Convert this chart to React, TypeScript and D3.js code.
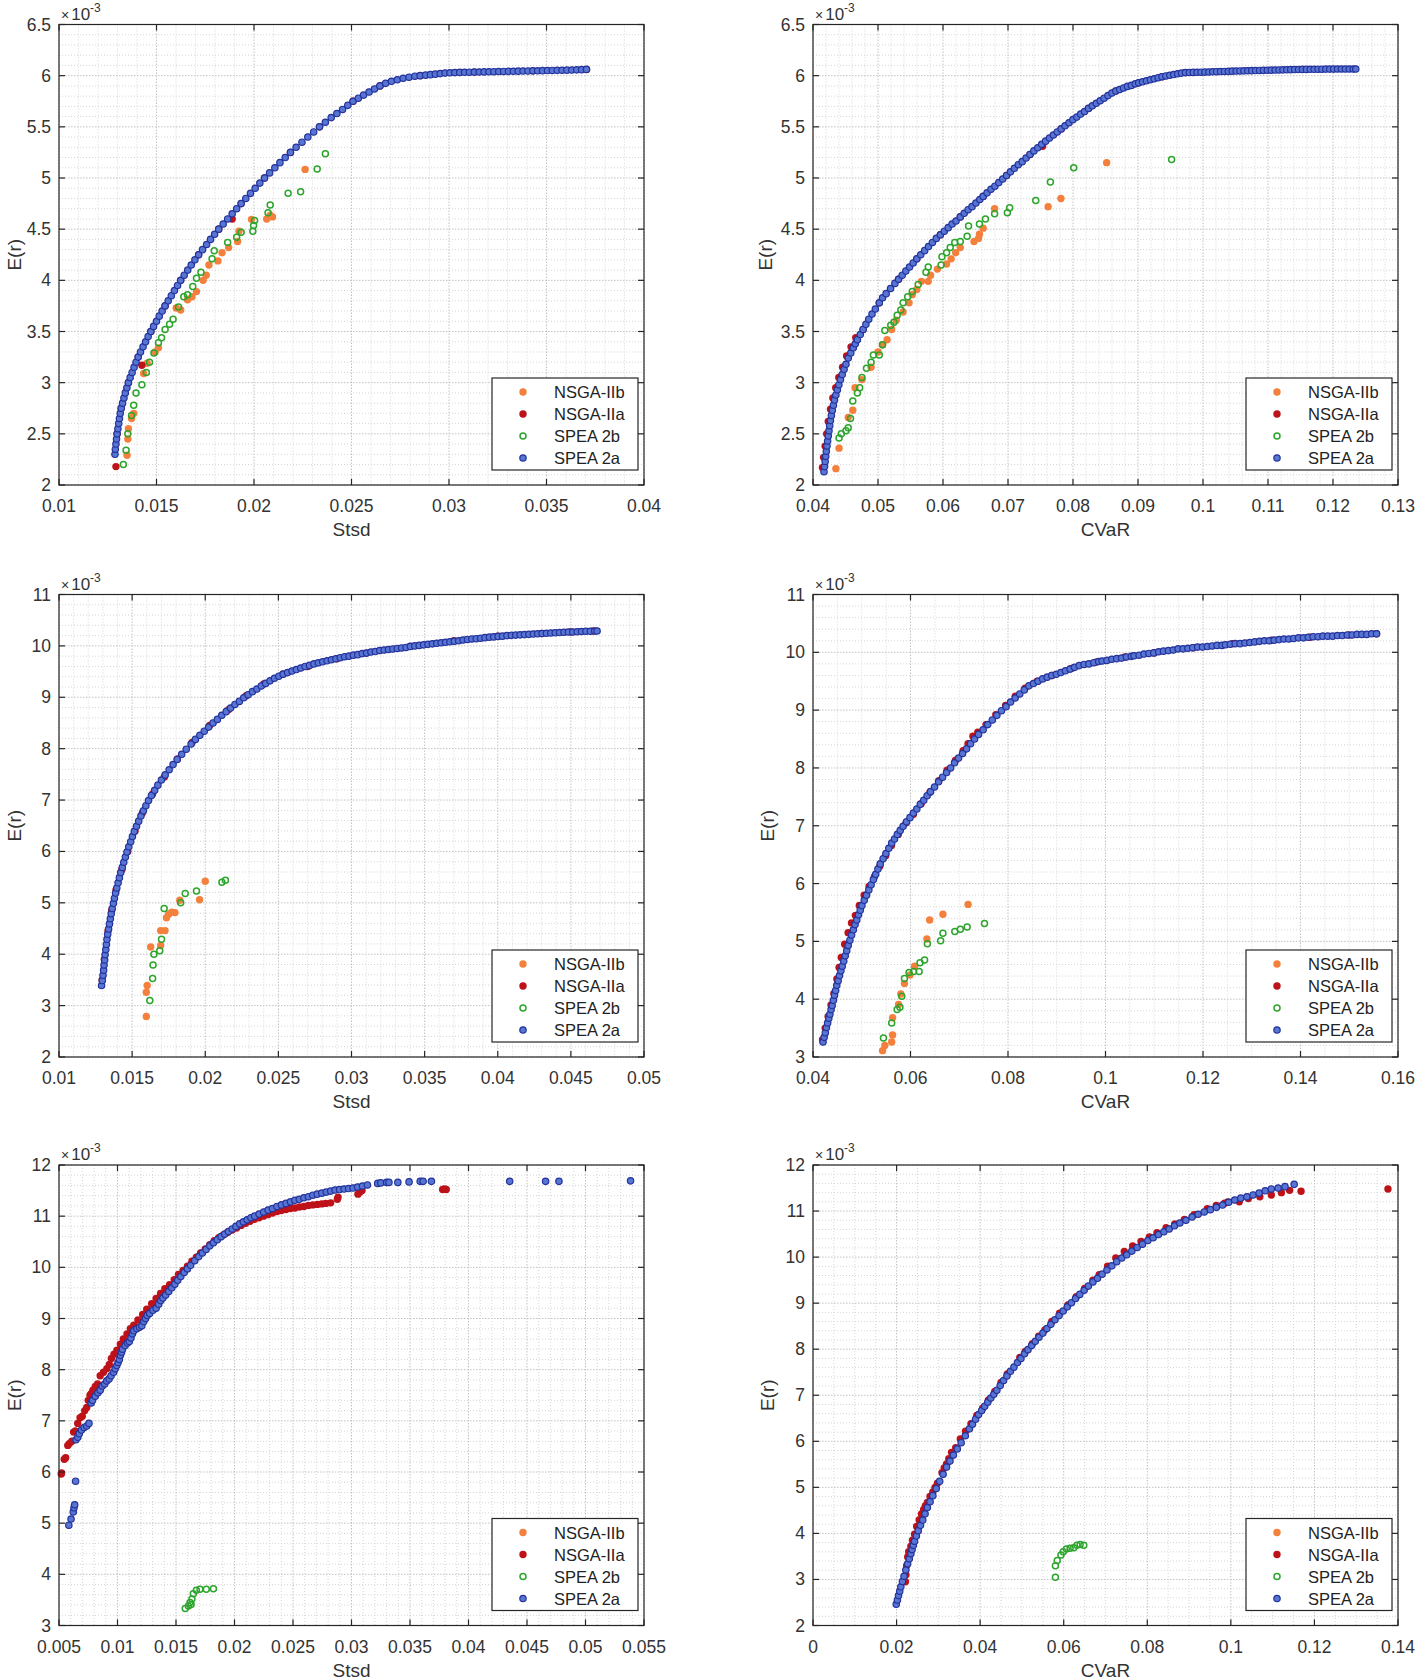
import React from 'react';
import * as d3 from 'd3';

type P = [number, number];

// ---------- Panel A : Stsd (top-left), E(r) in 1e-3 ----------
const A_nsga2b: P[] = [[0.02262,5.084],[0.02083,4.636],[0.02095,4.62],[0.02065,4.6],[0.01987,4.596],[0.01923,4.48],[0.01916,4.38],[0.0187,4.32],[0.01836,4.27],[0.01815,4.19],[0.01769,4.15],[0.01755,4.05],[0.01739,4.0],[0.01705,3.89],[0.01682,3.84],[0.01659,3.81],[0.01624,3.71],[0.01601,3.73],[0.0151,3.34],[0.01493,3.3],[0.01452,3.19],[0.01434,3.09],[0.01383,2.7],[0.01372,2.65],[0.01356,2.55],[0.01353,2.45],[0.01349,2.29]];
const A_nsga2a: P[] = [[0.01292,2.18],[0.01298,2.5],[0.01319,2.75],[0.01356,3.0],[0.01425,3.17],[0.01406,3.25],[0.01471,3.5],[0.01544,3.75],[0.01624,4.0],[0.01716,4.25],[0.01819,4.5],[0.01888,4.6],[0.01934,4.75],[0.02054,5.0],[0.02187,5.25],[0.02336,5.5],[0.02508,5.75],[0.02646,5.9],[0.02852,6.0],[0.0313,6.035],[0.0343,6.047],[0.03705,6.061]];
const A_spea2b: P[] = [[0.02366,5.236],[0.02324,5.088],[0.02239,4.865],[0.02175,4.85],[0.02083,4.737],[0.02072,4.66],[0.02003,4.585],[0.01998,4.535],[0.01994,4.48],[0.01934,4.47],[0.01911,4.42],[0.01865,4.37],[0.01796,4.29],[0.01785,4.21],[0.01728,4.08],[0.01705,4.02],[0.01686,3.94],[0.01659,3.86],[0.0164,3.84],[0.01613,3.74],[0.01585,3.62],[0.01567,3.57],[0.01544,3.52],[0.01526,3.44],[0.0151,3.39],[0.01487,3.29],[0.01464,3.2],[0.01448,3.1],[0.01425,2.98],[0.01395,2.9],[0.01383,2.78],[0.01372,2.68],[0.01353,2.5],[0.01344,2.34],[0.0133,2.2]];
const A_spea2a: P[] = [[0.01287,2.3],[0.01289,2.35],[0.01292,2.4],[0.01295,2.45],[0.01298,2.5],[0.01302,2.55],[0.01306,2.6],[0.0131,2.65],[0.01314,2.7],[0.01319,2.75],[0.01326,2.8],[0.01333,2.85],[0.0134,2.9],[0.01348,2.95],[0.01356,3.0],[0.01365,3.05],[0.01375,3.1],[0.01385,3.15],[0.01395,3.2],[0.01406,3.25],[0.01418,3.3],[0.01431,3.35],[0.01444,3.4],[0.01457,3.45],[0.01471,3.5],[0.01485,3.55],[0.015,3.6],[0.01514,3.65],[0.01529,3.7],[0.01544,3.75],[0.0156,3.8],[0.01576,3.85],[0.01592,3.9],[0.01608,3.95],[0.01624,4.0],[0.01642,4.05],[0.0166,4.1],[0.01678,4.15],[0.01697,4.2],[0.01716,4.25],[0.01736,4.3],[0.01757,4.35],[0.01777,4.4],[0.01798,4.45],[0.01819,4.5],[0.01842,4.55],[0.01865,4.6],[0.01888,4.65],[0.01911,4.7],[0.01934,4.75],[0.01958,4.8],[0.01982,4.85],[0.02006,4.9],[0.0203,4.95],[0.02054,5.0],[0.0208,5.05],[0.02107,5.1],[0.02133,5.15],[0.0216,5.2],[0.02187,5.25],[0.02216,5.3],[0.02246,5.35],[0.02276,5.4],[0.02306,5.45],[0.02336,5.5],[0.02366,5.545],[0.02396,5.59],[0.02425,5.63],[0.02454,5.67],[0.02481,5.71],[0.02508,5.75],[0.02535,5.78],[0.02562,5.81],[0.0259,5.84],[0.02618,5.87],[0.02646,5.9],[0.02675,5.925],[0.02705,5.945],[0.02735,5.96],[0.02765,5.975],[0.02795,5.985],[0.02825,5.995],[0.02852,6.0],[0.0288,6.005],[0.02905,6.01],[0.0293,6.015],[0.02955,6.02],[0.0298,6.025],[0.03005,6.028],[0.0303,6.03],[0.03055,6.032],[0.0308,6.033],[0.03105,6.034],[0.0313,6.035],[0.03155,6.036],[0.0318,6.037],[0.03205,6.038],[0.0323,6.039],[0.03255,6.04],[0.0328,6.041],[0.03305,6.042],[0.0333,6.043],[0.03355,6.044],[0.0338,6.045],[0.03405,6.046],[0.0343,6.047],[0.03455,6.048],[0.0348,6.049],[0.03505,6.05],[0.0353,6.051],[0.03555,6.052],[0.0358,6.053],[0.03605,6.054],[0.0363,6.055],[0.03655,6.057],[0.0368,6.059],[0.03705,6.061]];

// ---------- Panel B : CVaR (top-right) ----------
const B_nsga2b: P[] = [[0.08518,5.15],[0.07814,4.8],[0.07617,4.72],[0.06794,4.7],[0.06618,4.51],[0.06561,4.45],[0.06477,4.38],[0.06547,4.41],[0.06266,4.32],[0.06195,4.27],[0.06125,4.21],[0.06055,4.16],[0.05914,4.11],[0.05808,4.05],[0.05773,3.99],[0.05668,3.99],[0.05597,3.91],[0.05527,3.86],[0.05478,3.78],[0.05386,3.69],[0.05281,3.61],[0.0521,3.52],[0.0514,3.42],[0.0507,3.37],[0.05,3.3],[0.04894,3.15],[0.04753,3.03],[0.04647,2.95],[0.04612,2.73],[0.04542,2.66],[0.04401,2.36],[0.04352,2.16]];
const B_nsga2a: P[] = [[0.04145,2.17],[0.04163,2.27],[0.04186,2.38],[0.0421,2.5],[0.04235,2.62],[0.0427,2.74],[0.04305,2.85],[0.0435,2.95],[0.04397,3.05],[0.04455,3.15],[0.04517,3.26],[0.04585,3.35],[0.04658,3.44],[0.04771,3.52],[0.0502,3.78],[0.05316,4.01],[0.05597,4.21],[0.0596,4.445],[0.06266,4.62],[0.06618,4.82],[0.06978,5.025],[0.07338,5.23],[0.07532,5.31],[0.07818,5.48],[0.08238,5.68],[0.08658,5.85],[0.0901,5.93],[0.0937,5.99],[0.0973,6.03]];
const B_spea2b: P[] = [[0.09517,5.18],[0.08011,5.1],[0.07652,4.96],[0.07427,4.78],[0.07026,4.71],[0.0699,4.66],[0.06794,4.65],[0.06653,4.6],[0.06561,4.55],[0.06393,4.53],[0.06371,4.43],[0.06266,4.38],[0.06181,4.37],[0.06111,4.32],[0.06055,4.27],[0.05984,4.23],[0.0597,4.15],[0.05773,4.13],[0.05738,4.08],[0.05618,3.96],[0.05527,3.89],[0.05457,3.84],[0.05386,3.78],[0.05351,3.71],[0.05295,3.66],[0.05245,3.59],[0.05196,3.56],[0.05105,3.51],[0.0507,3.37],[0.0502,3.27],[0.04929,3.27],[0.04894,3.2],[0.04823,3.14],[0.04753,3.05],[0.04718,2.95],[0.04683,2.9],[0.04612,2.82],[0.04577,2.65],[0.04542,2.56],[0.04507,2.53],[0.04436,2.5],[0.04401,2.46]];
const B_spea2a: P[] = [[0.04169,2.13],[0.04178,2.18],[0.04187,2.23],[0.04196,2.28],[0.04205,2.33],[0.04215,2.38],[0.04225,2.43],[0.04235,2.48],[0.04246,2.53],[0.04257,2.58],[0.04268,2.63],[0.04283,2.68],[0.04298,2.73],[0.04314,2.78],[0.0433,2.83],[0.04352,2.88],[0.04375,2.93],[0.04398,2.98],[0.04422,3.03],[0.0445,3.08],[0.04478,3.13],[0.04507,3.18],[0.04542,3.24],[0.04581,3.29],[0.0462,3.34],[0.04651,3.38],[0.04683,3.42],[0.04727,3.47],[0.04771,3.52],[0.04814,3.57],[0.04858,3.62],[0.04908,3.67],[0.04959,3.72],[0.0502,3.78],[0.0507,3.83],[0.05125,3.87],[0.05193,3.92],[0.0526,3.97],[0.05316,4.01],[0.05372,4.05],[0.05428,4.09],[0.05485,4.13],[0.05541,4.17],[0.05597,4.21],[0.05657,4.25],[0.05717,4.29],[0.05777,4.33],[0.05837,4.37],[0.05897,4.41],[0.0596,4.445],[0.0602,4.48],[0.0608,4.515],[0.0614,4.55],[0.062,4.58],[0.06266,4.62],[0.06326,4.655],[0.06386,4.69],[0.06446,4.72],[0.06506,4.755],[0.06566,4.79],[0.06618,4.82],[0.06678,4.855],[0.06738,4.89],[0.06798,4.92],[0.06858,4.955],[0.06918,4.99],[0.06978,5.025],[0.07038,5.06],[0.07098,5.095],[0.07158,5.13],[0.07218,5.16],[0.07278,5.195],[0.07338,5.23],[0.07398,5.265],[0.07458,5.295],[0.07518,5.33],[0.07578,5.36],[0.07638,5.39],[0.07698,5.42],[0.07758,5.45],[0.07818,5.48],[0.07878,5.51],[0.07938,5.54],[0.07998,5.57],[0.08058,5.595],[0.08118,5.625],[0.08178,5.65],[0.08238,5.68],[0.08298,5.705],[0.08358,5.73],[0.08418,5.755],[0.08478,5.78],[0.08538,5.805],[0.08598,5.83],[0.08658,5.85],[0.08718,5.865],[0.08778,5.88],[0.08838,5.895],[0.08898,5.905],[0.08958,5.92],[0.0901,5.93],[0.0907,5.94],[0.0913,5.95],[0.0919,5.96],[0.0925,5.97],[0.0931,5.98],[0.0937,5.99],[0.0943,5.997],[0.0949,6.004],[0.0955,6.011],[0.0961,6.018],[0.0967,6.025],[0.0973,6.03],[0.0979,6.031],[0.0985,6.032],[0.0991,6.033],[0.0997,6.034],[0.1003,6.035],[0.1009,6.036],[0.1015,6.038],[0.1021,6.039],[0.1027,6.04],[0.1033,6.041],[0.1039,6.042],[0.1045,6.044],[0.1051,6.045],[0.1057,6.046],[0.1063,6.047],[0.1069,6.048],[0.1075,6.049],[0.1081,6.05],[0.1087,6.051],[0.1093,6.052],[0.1099,6.053],[0.1105,6.054],[0.1111,6.055],[0.1117,6.056],[0.1123,6.057],[0.1129,6.058],[0.1135,6.059],[0.1141,6.06],[0.1147,6.06],[0.1153,6.061],[0.1159,6.061],[0.1165,6.062],[0.1171,6.062],[0.1177,6.063],[0.1183,6.063],[0.1189,6.064],[0.1195,6.064],[0.1201,6.064],[0.1207,6.065],[0.1213,6.065],[0.1219,6.065],[0.1225,6.065],[0.1231,6.065],[0.1235,6.065]];

// ---------- Panel C : Stsd (middle-left) ----------
const C_nsga2b: P[] = [[0.02,5.42],[0.01961,5.06],[0.01826,5.05],[0.01793,4.81],[0.01771,4.82],[0.0175,4.78],[0.01735,4.71],[0.01725,4.46],[0.01695,4.46],[0.01695,4.17],[0.01627,4.14],[0.01603,3.39],[0.01597,3.26],[0.01597,2.79]];
const C_nsga2a: P[] = [[0.01295,3.5],[0.0131,3.9],[0.01335,4.45],[0.0136,4.85],[0.0139,5.25],[0.0143,5.65],[0.0147,6.0],[0.0152,6.4],[0.0157,6.75],[0.0164,7.12],[0.0172,7.45],[0.0181,7.8],[0.0191,8.12],[0.0203,8.45],[0.0216,8.76],[0.0228,9.03],[0.024,9.26],[0.0253,9.45],[0.027,9.6],[0.029,9.75],[0.031,9.86],[0.034,9.99],[0.037,10.1],[0.04,10.19],[0.043,10.24],[0.045,10.27],[0.0465,10.29]];
const C_spea2b: P[] = [[0.02138,5.44],[0.02114,5.4],[0.0194,5.23],[0.01863,5.18],[0.01832,5.0],[0.01719,4.89],[0.01701,4.29],[0.01689,4.07],[0.01649,4.0],[0.01643,3.79],[0.0164,3.53],[0.01621,3.1]];
const C_spea2a: P[] = [[0.01291,3.39],[0.01296,3.49],[0.01301,3.59],[0.01305,3.69],[0.01308,3.79],[0.01312,3.89],[0.01315,3.99],[0.0132,4.09],[0.01324,4.19],[0.01328,4.29],[0.01333,4.39],[0.01339,4.49],[0.01345,4.59],[0.01351,4.69],[0.01357,4.79],[0.01364,4.89],[0.01372,4.99],[0.01379,5.09],[0.01387,5.19],[0.01395,5.29],[0.01404,5.39],[0.01413,5.49],[0.01422,5.59],[0.01433,5.69],[0.01443,5.79],[0.01454,5.89],[0.01465,5.99],[0.01477,6.09],[0.0149,6.19],[0.01502,6.29],[0.01515,6.39],[0.0153,6.49],[0.01545,6.59],[0.0156,6.69],[0.01577,6.79],[0.01594,6.89],[0.01612,6.99],[0.01632,7.09],[0.01654,7.19],[0.01676,7.29],[0.017,7.39],[0.01726,7.49],[0.01753,7.59],[0.0178,7.69],[0.01808,7.79],[0.01839,7.89],[0.0187,7.99],[0.01903,8.09],[0.01933,8.18],[0.01963,8.26],[0.01993,8.34],[0.02023,8.42],[0.02053,8.5],[0.02083,8.57],[0.02113,8.65],[0.02143,8.72],[0.02173,8.79],[0.02203,8.86],[0.02233,8.92],[0.02263,8.99],[0.02293,9.05],[0.02323,9.11],[0.02353,9.16],[0.02383,9.22],[0.02413,9.27],[0.02443,9.32],[0.02473,9.37],[0.02503,9.41],[0.02533,9.45],[0.02563,9.48],[0.02593,9.51],[0.02623,9.54],[0.02653,9.57],[0.02683,9.6],[0.02713,9.62],[0.02743,9.65],[0.02773,9.67],[0.02803,9.69],[0.02833,9.71],[0.02863,9.73],[0.02893,9.75],[0.02923,9.77],[0.02953,9.79],[0.02983,9.8],[0.03013,9.82],[0.03043,9.83],[0.03073,9.85],[0.03103,9.86],[0.03133,9.88],[0.03163,9.89],[0.03193,9.91],[0.03223,9.92],[0.03253,9.93],[0.03283,9.94],[0.03313,9.95],[0.03343,9.96],[0.03373,9.97],[0.03403,9.99],[0.03433,10.0],[0.03463,10.01],[0.03493,10.02],[0.03523,10.03],[0.03553,10.04],[0.03583,10.05],[0.03613,10.06],[0.03643,10.07],[0.03673,10.08],[0.03703,10.09],[0.03733,10.1],[0.03763,10.115],[0.03793,10.125],[0.03823,10.135],[0.03853,10.14],[0.03883,10.15],[0.03913,10.16],[0.03943,10.17],[0.03973,10.175],[0.04003,10.185],[0.04033,10.19],[0.04063,10.2],[0.04093,10.205],[0.04123,10.21],[0.04153,10.215],[0.04183,10.22],[0.04213,10.225],[0.04243,10.23],[0.04273,10.235],[0.04303,10.24],[0.04333,10.245],[0.04363,10.25],[0.04393,10.255],[0.04423,10.26],[0.04453,10.265],[0.04483,10.27],[0.04513,10.27],[0.04543,10.275],[0.04573,10.28],[0.04603,10.285],[0.04633,10.285],[0.04663,10.29],[0.04679,10.29]];

// ---------- Panel D : CVaR (middle-right) ----------
const D_nsga2b: P[] = [[0.07181,5.64],[0.06665,5.47],[0.06393,5.37],[0.06336,5.04],[0.06083,4.57],[0.05989,4.42],[0.05876,4.27],[0.05801,4.09],[0.05755,3.91],[0.05633,3.68],[0.05633,3.38],[0.05614,3.26],[0.05473,3.2],[0.05426,3.11]];
const D_nsga2a: P[] = [[0.04196,3.3],[0.0425,3.5],[0.0431,3.7],[0.0437,3.9],[0.0443,4.1],[0.0449,4.35],[0.04535,4.55],[0.0458,4.72],[0.0465,4.95],[0.0472,5.15],[0.0479,5.32],[0.0487,5.45],[0.0495,5.62],[0.0505,5.8],[0.0515,5.95],[0.0526,6.12],[0.0537,6.3],[0.0549,6.48],[0.0561,6.66],[0.0575,6.85],[0.0591,7.05],[0.0606,7.2],[0.0622,7.38],[0.064,7.58],[0.0658,7.78],[0.0675,7.96],[0.0692,8.13],[0.0708,8.3],[0.0718,8.42],[0.0728,8.55],[0.0738,8.62],[0.0755,8.75],[0.0775,8.92],[0.0795,9.08],[0.0815,9.24],[0.0835,9.38],[0.086,9.5],[0.089,9.6],[0.093,9.72],[0.098,9.83],[0.104,9.92],[0.11,9.99],[0.118,10.08],[0.126,10.15],[0.134,10.21],[0.142,10.26],[0.15,10.3],[0.1556,10.32]];
const D_spea2b: P[] = [[0.07518,5.31],[0.07162,5.25],[0.07021,5.21],[0.06909,5.17],[0.06665,5.14],[0.06618,5.01],[0.06346,4.96],[0.06289,4.68],[0.06195,4.63],[0.06177,4.48],[0.06064,4.48],[0.0597,4.46],[0.05876,4.36],[0.0582,4.05],[0.05783,3.86],[0.05726,3.82],[0.05614,3.59],[0.05445,3.33]];
const D_spea2a: P[] = [[0.04206,3.26],[0.04229,3.34],[0.04253,3.42],[0.04276,3.51],[0.043,3.59],[0.04324,3.67],[0.04347,3.74],[0.04371,3.82],[0.04394,3.89],[0.04418,3.98],[0.04441,4.07],[0.04465,4.15],[0.04488,4.24],[0.04516,4.32],[0.04544,4.41],[0.04572,4.49],[0.046,4.57],[0.04631,4.66],[0.04661,4.75],[0.04692,4.84],[0.04722,4.93],[0.04757,5.02],[0.04792,5.11],[0.04828,5.2],[0.04863,5.29],[0.04898,5.37],[0.04934,5.46],[0.04969,5.54],[0.05004,5.62],[0.05051,5.71],[0.05098,5.8],[0.05145,5.89],[0.05192,5.98],[0.05239,6.07],[0.05286,6.16],[0.05332,6.25],[0.05379,6.34],[0.05438,6.43],[0.05496,6.52],[0.05555,6.61],[0.05614,6.7],[0.05672,6.77],[0.0573,6.85],[0.05789,6.92],[0.05848,6.99],[0.05918,7.07],[0.05989,7.14],[0.06059,7.22],[0.0613,7.29],[0.062,7.37],[0.06271,7.44],[0.06341,7.52],[0.06411,7.59],[0.06493,7.67],[0.06576,7.76],[0.06658,7.84],[0.0674,7.92],[0.06822,8.0],[0.06904,8.09],[0.06986,8.17],[0.07068,8.25],[0.0715,8.33],[0.07232,8.42],[0.07314,8.5],[0.07396,8.58],[0.0749,8.66],[0.07584,8.75],[0.07678,8.83],[0.07772,8.91],[0.07866,8.99],[0.0796,9.06],[0.08053,9.14],[0.08147,9.21],[0.08241,9.28],[0.08334,9.35],[0.08428,9.42],[0.08522,9.46],[0.08616,9.5],[0.0871,9.54],[0.08804,9.57],[0.08898,9.6],[0.08991,9.62],[0.09085,9.65],[0.09179,9.68],[0.09273,9.71],[0.09366,9.74],[0.0946,9.77],[0.0956,9.79],[0.0966,9.8],[0.0976,9.82],[0.0986,9.84],[0.0993,9.85],[0.1003,9.86],[0.1013,9.88],[0.1023,9.89],[0.1033,9.9],[0.1043,9.92],[0.1053,9.93],[0.10586,9.94],[0.1069,9.95],[0.1079,9.97],[0.1089,9.98],[0.1099,9.99],[0.1109,10.01],[0.1119,10.02],[0.1129,10.03],[0.1139,10.04],[0.1149,10.06],[0.1159,10.06],[0.1169,10.07],[0.1179,10.08],[0.1189,10.09],[0.1199,10.09],[0.1209,10.1],[0.1219,10.11],[0.1229,10.12],[0.1239,10.12],[0.1246,10.13],[0.1256,10.14],[0.1266,10.15],[0.1276,10.15],[0.1286,10.16],[0.1296,10.17],[0.1306,10.18],[0.1316,10.19],[0.1326,10.2],[0.1336,10.2],[0.1346,10.21],[0.1356,10.22],[0.1366,10.23],[0.1376,10.23],[0.1386,10.24],[0.1396,10.25],[0.1406,10.25],[0.1416,10.26],[0.1426,10.27],[0.1436,10.27],[0.1446,10.28],[0.1456,10.28],[0.1466,10.28],[0.1476,10.29],[0.1486,10.29],[0.1496,10.3],[0.1506,10.3],[0.1516,10.31],[0.1526,10.31],[0.1536,10.31],[0.1546,10.32],[0.1556,10.32]];

// ---------- Panel E : Stsd (bottom-left) ----------
const E_nsga2b: P[] = [];
const E_nsga2a: P[] = [[0.00519,5.96],[0.00522,5.98],[0.00545,6.25],[0.00557,6.28],[0.00575,6.52],[0.0059,6.56],[0.0061,6.6],[0.00625,6.78],[0.0064,6.8],[0.0066,6.95],[0.0068,7.06],[0.00699,7.09],[0.0072,7.2],[0.00737,7.26],[0.0075,7.4],[0.00765,7.5],[0.00775,7.53],[0.0079,7.6],[0.0081,7.67],[0.0083,7.72],[0.00852,7.88],[0.0088,7.95],[0.00909,8.02],[0.0093,8.1],[0.00948,8.22],[0.0097,8.3],[0.00995,8.38],[0.01024,8.5],[0.0105,8.6],[0.01081,8.7],[0.0111,8.8],[0.01139,8.87],[0.01175,8.97],[0.01215,9.08],[0.0125,9.18],[0.01292,9.29],[0.0133,9.39],[0.01368,9.49],[0.01405,9.58],[0.01445,9.66],[0.01485,9.76],[0.01521,9.86],[0.0156,9.94],[0.01598,10.02],[0.01636,10.12],[0.01674,10.2],[0.0171,10.28],[0.0175,10.36],[0.01789,10.44],[0.01827,10.52],[0.01865,10.58],[0.01904,10.63],[0.0194,10.68],[0.0198,10.73],[0.02018,10.77],[0.02057,10.82],[0.02095,10.86],[0.02133,10.9],[0.0217,10.94],[0.0221,10.97],[0.02248,11.0],[0.02286,11.03],[0.02325,11.06],[0.02363,11.09],[0.024,11.11],[0.0244,11.13],[0.02478,11.15],[0.02516,11.16],[0.02555,11.18],[0.02593,11.19],[0.0263,11.21],[0.02669,11.22],[0.02707,11.23],[0.02745,11.24],[0.0278,11.25],[0.02822,11.26],[0.02879,11.33],[0.02885,11.37],[0.03055,11.43],[0.03071,11.47],[0.0309,11.5],[0.03779,11.52],[0.03795,11.53],[0.0381,11.52]];
const E_spea2b: P[] = [[0.01579,3.33],[0.01606,3.38],[0.01629,3.41],[0.01636,3.52],[0.01648,3.62],[0.01674,3.69],[0.01705,3.71],[0.01759,3.71],[0.0182,3.72],[0.0162,3.45]];
const E_spea2a: P[] = [[0.00584,4.96],[0.00603,5.08],[0.00622,5.22],[0.00628,5.3],[0.00634,5.36],[0.00642,5.82],[0.00645,6.63],[0.00661,6.68],[0.00673,6.75],[0.00692,6.82],[0.00715,6.87],[0.00737,6.9],[0.00756,6.95],[0.00775,7.35],[0.00787,7.4],[0.0081,7.48],[0.00833,7.55],[0.00852,7.6],[0.0087,7.68],[0.0089,7.72],[0.00908,7.78],[0.00928,7.82],[0.00945,7.88],[0.00967,7.95],[0.0098,8.02],[0.00994,8.08],[0.01005,8.14],[0.01016,8.2],[0.01025,8.28],[0.01035,8.34],[0.01043,8.4],[0.01065,8.47],[0.01085,8.52],[0.01101,8.55],[0.01115,8.62],[0.01128,8.7],[0.01139,8.76],[0.01165,8.8],[0.01188,8.83],[0.01208,8.86],[0.01225,8.94],[0.0124,9.0],[0.01254,9.06],[0.01275,9.1],[0.01303,9.16],[0.0133,9.2],[0.01352,9.28],[0.0137,9.35],[0.01388,9.4],[0.01412,9.46],[0.01438,9.53],[0.01464,9.6],[0.0149,9.67],[0.01515,9.75],[0.01541,9.82],[0.0157,9.9],[0.01598,9.97],[0.01625,10.04],[0.0166,10.13],[0.01694,10.21],[0.01725,10.28],[0.01757,10.35],[0.01789,10.42],[0.0182,10.48],[0.01853,10.54],[0.01885,10.6],[0.01916,10.65],[0.01948,10.7],[0.0198,10.75],[0.02012,10.8],[0.02044,10.85],[0.02076,10.89],[0.02108,10.93],[0.0214,10.97],[0.02172,11.0],[0.0221,11.04],[0.02249,11.08],[0.02287,11.12],[0.02325,11.15],[0.02363,11.19],[0.02401,11.22],[0.0244,11.25],[0.02478,11.28],[0.02516,11.31],[0.02554,11.33],[0.02593,11.36],[0.02631,11.38],[0.02669,11.41],[0.02707,11.43],[0.02746,11.45],[0.02784,11.47],[0.02822,11.49],[0.0286,11.51],[0.02898,11.52],[0.02937,11.53],[0.02975,11.54],[0.03013,11.55],[0.03052,11.57],[0.03094,11.59],[0.03136,11.61],[0.03224,11.64],[0.0325,11.65],[0.033,11.66],[0.0332,11.66],[0.03396,11.66],[0.03492,11.67],[0.03587,11.68],[0.03612,11.68],[0.03683,11.68],[0.04352,11.68],[0.04659,11.68],[0.04773,11.68],[0.05385,11.69]];

// ---------- Panel F : CVaR (bottom-right) ----------
const F_nsga2b: P[] = [];
const F_nsga2a: P[] = [[0.02211,2.95],[0.02225,3.1],[0.0224,3.3],[0.02266,3.49],[0.0229,3.6],[0.02342,3.72],[0.0238,3.85],[0.0243,3.98],[0.0248,4.15],[0.0254,4.29],[0.02595,4.42],[0.02649,4.52],[0.0269,4.6],[0.02737,4.67],[0.028,4.8],[0.02868,4.9],[0.0292,5.0],[0.02977,5.09],[0.03087,5.32],[0.0314,5.42],[0.03196,5.51],[0.0325,5.62],[0.03315,5.76],[0.03415,5.86],[0.03525,6.05],[0.0365,6.22],[0.0378,6.38],[0.0392,6.56],[0.0406,6.72],[0.042,6.9],[0.0435,7.08],[0.045,7.28],[0.0465,7.46],[0.04948,7.82],[0.0508,7.95],[0.0525,8.12],[0.054,8.28],[0.0555,8.42],[0.05714,8.6],[0.059,8.78],[0.061,8.96],[0.063,9.14],[0.065,9.32],[0.06699,9.5],[0.0685,9.62],[0.0705,9.8],[0.07246,9.98],[0.0745,10.12],[0.0765,10.24],[0.0785,10.34],[0.0805,10.44],[0.08232,10.53],[0.0845,10.64],[0.08658,10.72],[0.08888,10.82],[0.0912,10.92],[0.09436,11.05],[0.0965,11.12],[0.0985,11.17],[0.09928,11.2],[0.10202,11.2],[0.1042,11.27],[0.10694,11.31],[0.10968,11.35],[0.11209,11.4],[0.11406,11.45],[0.1168,11.43],[0.1376,11.48]];
const F_spea2b: P[] = [[0.05801,3.05],[0.05801,3.3],[0.05845,3.41],[0.05933,3.53],[0.05988,3.6],[0.06064,3.66],[0.06152,3.68],[0.0624,3.69],[0.06316,3.74],[0.06393,3.76],[0.0648,3.74]];
const F_spea2a: P[] = [[0.01992,2.46],[0.0202,2.555],[0.02047,2.65],[0.02075,2.745],[0.02102,2.84],[0.0214,2.955],[0.02178,3.07],[0.02222,3.205],[0.02266,3.34],[0.02304,3.45],[0.02342,3.56],[0.02371,3.65],[0.02401,3.74],[0.0243,3.83],[0.02474,3.945],[0.02518,4.06],[0.02572,4.175],[0.02627,4.29],[0.02682,4.425],[0.02737,4.56],[0.02802,4.69],[0.02868,4.82],[0.0295,4.975],[0.03032,5.13],[0.03114,5.285],[0.03196,5.44],[0.03278,5.57],[0.0336,5.7],[0.03453,5.835],[0.03546,5.97],[0.03645,6.12],[0.03744,6.27],[0.03817,6.37],[0.0389,6.48],[0.03963,6.58],[0.04036,6.67],[0.04109,6.76],[0.04182,6.85],[0.04255,6.94],[0.04327,7.02],[0.044,7.11],[0.0448,7.21],[0.04561,7.32],[0.04641,7.42],[0.04725,7.52],[0.04809,7.61],[0.04893,7.71],[0.04977,7.8],[0.05061,7.9],[0.05145,7.99],[0.05232,8.08],[0.0532,8.17],[0.05407,8.26],[0.05502,8.35],[0.05597,8.45],[0.05692,8.54],[0.05791,8.64],[0.05889,8.73],[0.05988,8.83],[0.06086,8.92],[0.06185,9.01],[0.06283,9.1],[0.06385,9.19],[0.06488,9.28],[0.0659,9.37],[0.06699,9.46],[0.06809,9.54],[0.06918,9.63],[0.07035,9.72],[0.07151,9.81],[0.07268,9.9],[0.07389,9.98],[0.07509,10.05],[0.0763,10.13],[0.07758,10.21],[0.07885,10.28],[0.08013,10.36],[0.0814,10.42],[0.08268,10.49],[0.08396,10.55],[0.08524,10.61],[0.08651,10.68],[0.08779,10.74],[0.08925,10.8],[0.09071,10.87],[0.09217,10.93],[0.09363,10.98],[0.09509,11.03],[0.09655,11.08],[0.09801,11.13],[0.09946,11.19],[0.10092,11.24],[0.10238,11.28],[0.10384,11.31],[0.1053,11.35],[0.10676,11.39],[0.10822,11.44],[0.10968,11.48],[0.11132,11.5],[0.11296,11.53],[0.11515,11.58]];

// ---------- ticks ----------
const XT_A = ['0.01','0.015','0.02','0.025','0.03','0.035','0.04'];
const XT_B = ['0.04','0.05','0.06','0.07','0.08','0.09','0.1','0.11','0.12','0.13'];
const XT_C = ['0.01','0.015','0.02','0.025','0.03','0.035','0.04','0.045','0.05'];
const XT_D = ['0.04','0.06','0.08','0.1','0.12','0.14','0.16'];
const XT_E = ['0.005','0.01','0.015','0.02','0.025','0.03','0.035','0.04','0.045','0.05','0.055'];
const XT_F = ['0','0.02','0.04','0.06','0.08','0.1','0.12','0.14'];
const YT_AB = ['2','2.5','3','3.5','4','4.5','5','5.5','6','6.5'];
const YT_C = ['2','3','4','5','6','7','8','9','10','11'];
const YT_D = ['3','4','5','6','7','8','9','10','11'];
const YT_E = ['3','4','5','6','7','8','9','10','11','12'];
const YT_F = ['2','3','4','5','6','7','8','9','10','11','12'];

const LEGEND = ['NSGA-IIb', 'NSGA-IIa', 'SPEA 2b', 'SPEA 2a'];

const C_ORANGE = '#F4803D';
const C_RED = '#BE1219';
const C_GREEN = '#2CA52C';
const C_BLUE = '#24329A';
const C_BLUE_FILL = '#5775D3';
const AX = '#262626';
const FONT = 'Arial, "Liberation Sans", Helvetica, sans-serif';

type Spec = {
  left: number; top: number; w: number; h: number;
  xt: string[]; yt: string[]; xMinor: number; yMinor: number;
  xLabel: string; yLabelX: number;
  series: P[][];
};

const W = 585;
const SPECS: Spec[] = [
  { left: 59, top: 24.5, w: W, h: 460.5, xt: XT_A, yt: YT_AB, xMinor: 5, yMinor: 5, xLabel: 'Stsd', yLabelX: 15, series: [A_nsga2b, A_nsga2a, A_spea2b, A_spea2a] },
  { left: 813, top: 24.5, w: W, h: 460.5, xt: XT_B, yt: YT_AB, xMinor: 5, yMinor: 5, xLabel: 'CVaR', yLabelX: 766, series: [B_nsga2b, B_nsga2a, B_spea2b, B_spea2a] },
  { left: 59, top: 594.5, w: W, h: 462.5, xt: XT_C, yt: YT_C, xMinor: 5, yMinor: 5, xLabel: 'Stsd', yLabelX: 15, series: [C_nsga2b, C_nsga2a, C_spea2b, C_spea2a] },
  { left: 813, top: 594.5, w: W, h: 462.5, xt: XT_D, yt: YT_D, xMinor: 4, yMinor: 5, xLabel: 'CVaR', yLabelX: 768, series: [D_nsga2b, D_nsga2a, D_spea2b, D_spea2a] },
  { left: 59, top: 1165, w: W, h: 460.5, xt: XT_E, yt: YT_E, xMinor: 5, yMinor: 5, xLabel: 'Stsd', yLabelX: 15, series: [E_nsga2b, E_nsga2a, E_spea2b, E_spea2a] },
  { left: 813, top: 1165, w: W, h: 460.5, xt: XT_F, yt: YT_F, xMinor: 4, yMinor: 5, xLabel: 'CVaR', yLabelX: 768, series: [F_nsga2b, F_nsga2a, F_spea2b, F_spea2a] },
];

function Marker({ kind, cx, cy }: { kind: number; cx: number; cy: number }) {
  if (kind === 0) return <circle cx={cx} cy={cy} r={3.7} fill={C_ORANGE} />;
  if (kind === 1) return <circle cx={cx} cy={cy} r={3.7} fill={C_RED} />;
  if (kind === 2) return <circle cx={cx} cy={cy} r={3.0} fill="none" stroke={C_GREEN} strokeWidth={1.5} />;
  return <circle cx={cx} cy={cy} r={3.2} fill={C_BLUE_FILL} stroke={C_BLUE} strokeWidth={1.2} />;
}

function minorValues(ticks: number[], n: number) {
  const out: number[] = [];
  for (let i = 0; i < ticks.length - 1; i++) {
    const step = (ticks[i + 1] - ticks[i]) / n;
    for (let k = 1; k < n; k++) out.push(ticks[i] + k * step);
  }
  return out;
}

function Panel({ s }: { s: Spec }) {
  const xv = s.xt.map(Number);
  const yv = s.yt.map(Number);
  const x = d3.scaleLinear().domain([xv[0], xv[xv.length - 1]]).range([s.left, s.left + s.w]);
  const y = d3.scaleLinear().domain([yv[0], yv[yv.length - 1]]).range([s.top + s.h, s.top]);
  const right = s.left + s.w;
  const bottom = s.top + s.h;
  const xm = minorValues(xv, s.xMinor);
  const ym = minorValues(yv, s.yMinor);
  const tl = 6;
  const lgL = right - 152;
  const lgR = right - 6;
  const lgT = bottom - 107;
  const lgB = bottom - 15;
  const rows = [bottom - 93, bottom - 71, bottom - 49, bottom - 27];
  return (
    <g>
      <rect x={s.left} y={s.top} width={s.w} height={s.h} fill="#fff" />
      {xm.map((v, i) => (
        <line key={'xm' + i} x1={x(v)} x2={x(v)} y1={s.top} y2={bottom} stroke="#d6d6d6" strokeWidth={1} strokeDasharray="1 2" />
      ))}
      {ym.map((v, i) => (
        <line key={'ym' + i} x1={s.left} x2={right} y1={y(v)} y2={y(v)} stroke="#d6d6d6" strokeWidth={1} strokeDasharray="1 2" />
      ))}
      {xv.map((v, i) => (
        <line key={'xg' + i} x1={x(v)} x2={x(v)} y1={s.top} y2={bottom} stroke="#c2c2c2" strokeWidth={1} strokeDasharray="1.5 1.5" />
      ))}
      {yv.map((v, i) => (
        <line key={'yg' + i} x1={s.left} x2={right} y1={y(v)} y2={y(v)} stroke="#c2c2c2" strokeWidth={1} strokeDasharray="1.5 1.5" />
      ))}
      {s.series.map((pts, k) => (
        <g key={'s' + k}>
          {pts.map((p, i) => (
            <Marker key={i} kind={k} cx={x(p[0])} cy={y(p[1])} />
          ))}
        </g>
      ))}
      <rect x={s.left} y={s.top} width={s.w} height={s.h} fill="none" stroke={AX} strokeWidth={1.2} />
      {xv.map((v, i) => (
        <g key={'xt' + i}>
          <line x1={x(v)} x2={x(v)} y1={bottom} y2={bottom - tl} stroke={AX} strokeWidth={1.2} />
          <line x1={x(v)} x2={x(v)} y1={s.top} y2={s.top + tl} stroke={AX} strokeWidth={1.2} />
          <text x={x(v)} y={bottom + 27} textAnchor="middle" fontSize={17.5} fill="#333" fontFamily={FONT}>{s.xt[i]}</text>
        </g>
      ))}
      {yv.map((v, i) => (
        <g key={'yt' + i}>
          <line x1={s.left} x2={s.left + tl} y1={y(v)} y2={y(v)} stroke={AX} strokeWidth={1.2} />
          <line x1={right} x2={right - tl} y1={y(v)} y2={y(v)} stroke={AX} strokeWidth={1.2} />
          <text x={s.left - 8} y={y(v) + 6} textAnchor="end" fontSize={17.5} fill="#333" fontFamily={FONT}>{s.yt[i]}</text>
        </g>
      ))}
      <text x={s.left + 2} y={s.top - 5} fontSize={17} fill="#333" fontFamily={FONT}>
        <tspan fontSize={14}>×</tspan>
        <tspan dx={2}>10</tspan>
        <tspan fontSize={12} dy={-8}>-3</tspan>
      </text>
      <text x={s.left + s.w / 2} y={bottom + 51} textAnchor="middle" fontSize={19} fill="#333" fontFamily={FONT}>{s.xLabel}</text>
      <text transform={`translate(${s.yLabelX + 6},${s.top + s.h / 2}) rotate(-90)`} textAnchor="middle" fontSize={19} fill="#333" fontFamily={FONT}>E(r)</text>
      <rect x={lgL} y={lgT} width={lgR - lgL} height={lgB - lgT} fill="#fff" stroke={AX} strokeWidth={1.2} />
      {LEGEND.map((name, k) => (
        <g key={'lg' + k}>
          <Marker kind={k} cx={lgL + 31} cy={rows[k]} />
          <text x={lgL + 62} y={rows[k] + 6} fontSize={16.5} fill="#222" fontFamily={FONT}>{name}</text>
        </g>
      ))}
    </g>
  );
}

export default function App() {
  return (
    <svg width={1416} height={1680} style={{ position: 'absolute', left: 0, top: 0, background: '#fff' }}>
      <rect x={0} y={0} width={1416} height={1680} fill="#fff" />
      {SPECS.map((s, i) => <Panel key={i} s={s} />)}
    </svg>
  );
}
